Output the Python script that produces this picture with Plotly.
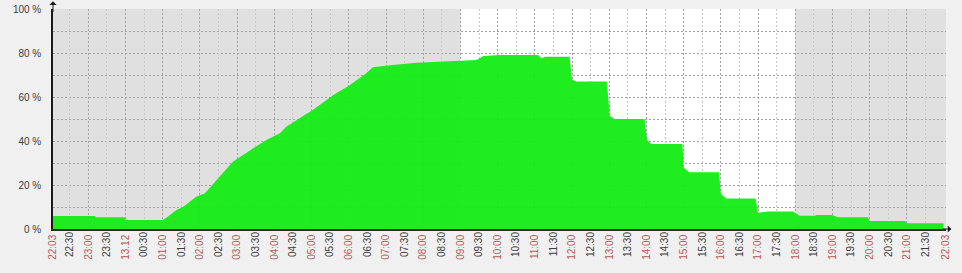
import plotly.graph_objects as go

# ---- data ----
times = ["22:03", "23:10", "23:12", "23:59", "00:00", "01:00", "01:08", "01:22", "01:33",
         "01:54", "02:08", "02:27", "02:53", "03:26", "03:47", "04:09", "04:19", "04:52",
         "05:02", "05:35", "06:02", "06:28", "06:39", "07:11", "07:49", "08:59", "09:26",
         "09:37", "10:03", "11:05", "11:11", "11:16", "11:56", "12:00", "12:07", "12:56",
         "13:01", "13:09", "13:57", "14:01", "14:08", "14:58", "15:00", "15:09", "15:57",
         "16:00", "16:09", "16:56", "17:00", "17:16", "17:56", "18:07", "18:32", "18:34",
         "18:59", "19:09", "19:57", "20:00", "20:57", "21:00", "21:59"]
values = [5.9, 5.9, 5.3, 5.3, 4.1, 4.1, 5.6, 8.6, 10.1,
          14.7, 16.2, 22.3, 30.6, 36.7, 40.5, 43.5, 46.5, 52.4,
          54.1, 60.9, 65.5, 70.8, 73.5, 74.5, 75.6, 76.5, 76.8,
          78.6, 79.1, 79.1, 77.6, 78.3, 78.3, 68.0, 67.0, 67.0,
          51.4, 50.0, 50.0, 40.5, 38.6, 38.6, 28.0, 25.8, 25.8,
          15.9, 13.9, 13.9, 7.4, 7.9, 7.9, 6.0, 6.0, 6.4,
          6.4, 5.3, 5.3, 3.6, 3.6, 2.6, 2.6]

hour_labels = ["22:03", "23:00", "13.12", "01:00", "02:00", "03:00", "04:00", "05:00",
               "06:00", "07:00", "08:00", "09:00", "10:00", "11:00", "12:00", "13:00",
               "14:00", "15:00", "16:00", "17:00", "18:00", "19:00", "20:00", "21:00", "22:03"]
half_labels = ["22:30", "23:30", "00:30", "01:30", "02:30", "03:30", "04:30", "05:30",
               "06:30", "07:30", "08:30", "09:30", "10:30", "11:30", "12:30", "13:30",
               "14:30", "15:30", "16:30", "17:30", "18:30", "19:30", "20:30", "21:30"]
y_ticks = [0, 10, 20, 30, 40, 50, 60, 70, 80, 90, 100]
y_labels = ["0 %", "", "20 %", "", "40 %", "", "60 %", "", "80 %", "", "100 %"]

day_start, day_end = "09:00", "18:00"


def to_hours(labels):
    out, prev = [], None
    for lab in labels:
        if "." in lab:
            h = 24.0
        else:
            hh, mm = lab.split(":")
            h = int(hh) + int(mm) / 60.0
        if prev is not None:
            while h <= prev - 1e-9:
                h += 24
        out.append(h)
        prev = h
    return out


xs = to_hours(times)
hour_pos = to_hours(hour_labels)
half_pos = to_hours(half_labels)
x0, x1 = hour_pos[0], hour_pos[-1]
ds, de = to_hours(["22:03", day_start, day_end])[1:]

RED = "#b85a5a"
DARK = "#3c3c3c"
FONT = "Liberation Sans"
DASH = "2px,2px"

fig = go.Figure()
fig.add_trace(go.Scatter(
    x=xs, y=values, mode="lines", line=dict(width=0, color="#18ec18"),
    fill="tozeroy", fillcolor="rgba(22,236,22,0.96)", hoverinfo="skip", showlegend=False))

# night background bands
for a, b in [(x0, ds), (de, x1)]:
    fig.add_shape(type="rect", xref="x", yref="y", x0=a, x1=b, y0=0, y1=100,
                  fillcolor="#e0e0e0", line=dict(width=0), layer="below")

fig.update_layout(
    template="none",
    width=962, height=273,
    margin=dict(l=53, r=16, t=9, b=44),
    paper_bgcolor="#f0f0f0", plot_bgcolor="#ffffff",
    xaxis=dict(range=[x0, x1], tickmode="array", tickvals=hour_pos, ticktext=hour_labels,
               tickangle=-90, tickfont=dict(family=FONT, size=10, color=RED),
               showgrid=True, gridcolor="#a0a0a0", griddash=DASH, gridwidth=1,
               zeroline=False, showline=True, linecolor="#2a2a2a", linewidth=1.5,
               ticks="", automargin=False, fixedrange=True),
    xaxis2=dict(range=[x0, x1], overlaying="x", side="bottom", anchor="y",
                tickmode="array", tickvals=half_pos, ticktext=half_labels,
                tickangle=-90, tickfont=dict(family=FONT, size=10, color=DARK),
                showgrid=True, gridcolor="#c8c8c8", griddash=DASH, gridwidth=1,
                zeroline=False, showline=False, ticks="", automargin=False),
    yaxis=dict(range=[0, 100], tickmode="array", tickvals=y_ticks, ticktext=y_labels,
               tickfont=dict(family=FONT, size=10, color=DARK),
               showgrid=True, gridcolor="#a0a0a0", griddash=DASH, gridwidth=1,
               zeroline=False, showline=True, linecolor="#1a1a1a", linewidth=1.5,
               ticks="", ticklabelstandoff=8, automargin=False),
)
# invisible trace so that xaxis2 is drawn
fig.add_trace(go.Scatter(x=[x0, x1], y=[0, 0], xaxis="x2", yaxis="y", mode="lines",
                         line=dict(width=0), hoverinfo="skip", showlegend=False))

# axis arrows
fig.add_annotation(xref="paper", yref="paper", x=0, y=1.035, ax=0, ay=12, text="",
                   showarrow=True, arrowhead=1, arrowsize=1.2, arrowwidth=1, arrowcolor="#1a1a1a")
fig.add_annotation(xref="paper", yref="paper", x=1.006, y=0, ax=-10, ay=0, text="",
                   showarrow=True, arrowhead=1, arrowsize=1.2, arrowwidth=1, arrowcolor="#1a1a1a")

fig.write_html("out.html")
